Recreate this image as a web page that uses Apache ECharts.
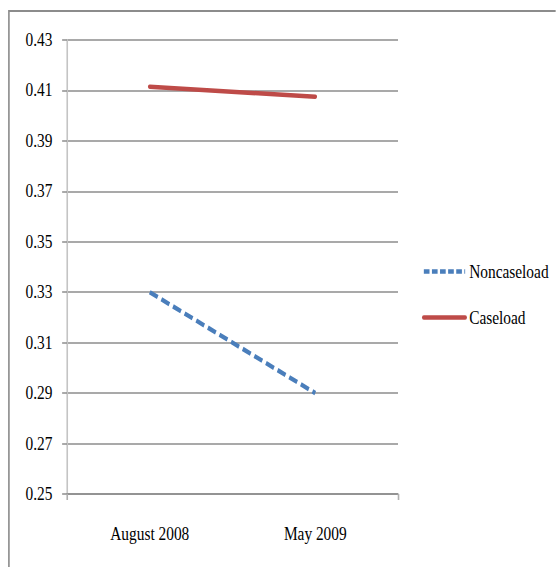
<!DOCTYPE html>
<html>
<head>
<meta charset="utf-8">
<script src="https://cdn.jsdelivr.net/npm/echarts@6/dist/echarts.min.js"></script>
<style>
  html, body { margin: 0; padding: 0; background: #ffffff; overflow: hidden; }
  #wrap { width: 556px; height: 567px; overflow: hidden; position: relative; }
  #chart { width: 686px; height: 567px; transform: scaleX(0.81); transform-origin: 0 0; }
</style>
</head>
<body>
<div id="wrap"><div id="chart"></div></div>
<script>
const categories = ['August 2008', 'May 2009'];
const noncaseload = [0.33, 0.29];
const caseload = [0.4115, 0.4075];
const yMin = 0.25, yMax = 0.43, yStep = 0.02;

const FONT = '"Liberation Serif", "Times New Roman", serif';
const chart = echarts.init(document.getElementById('chart'), null, { renderer: 'svg' });

chart.setOption({
  backgroundColor: '#ffffff',
  animation: false,
  graphic: [{
    type: 'rect',
    shape: { x: 11, y: 11, width: 1200, height: 1200 },
    style: { fill: 'none', stroke: '#8c8c8c', lineWidth: 2 },
    silent: true
  }],
  grid: { left: 82.7, right: 194.6, top: 40, bottom: 73, containLabel: false },
  legend: {
    orient: 'vertical',
    left: 521,
    top: 262,
    padding: 0,
    itemWidth: 51,
    itemHeight: 19,
    itemGap: 27,
    textStyle: { fontFamily: FONT, fontSize: 19, color: '#000', lineHeight: 19 },
    itemStyle: { opacity: 0 },
    data: [
      { name: 'Noncaseload', lineStyle: { width: 4.5, type: [7, 3] } },
      { name: 'Caseload', lineStyle: { width: 4.5 } }
    ]
  },
  xAxis: {
    type: 'category',
    data: categories,
    boundaryGap: true,
    axisLine: { lineStyle: { color: '#8c8c8c', width: 1.5 } },
    axisTick: { show: true, interval: 1, length: 6, lineStyle: { color: '#b0b0b0', width: 2 } },
    axisLabel: { fontFamily: FONT, fontSize: 19, color: '#000', margin: 30 },
    splitLine: { show: false }
  },
  yAxis: {
    type: 'value',
    min: yMin,
    max: yMax,
    interval: yStep,
    axisLine: { show: true, lineStyle: { color: '#c4c4c4', width: 2 } },
    axisTick: { show: true, length: 6, lineStyle: { color: '#8c8c8c', width: 1.5 } },
    axisLabel: {
      fontFamily: FONT, fontSize: 19, color: '#000', margin: 18,
      formatter: v => v.toFixed(2)
    },
    splitLine: { show: true, lineStyle: { color: '#8c8c8c', width: 1.5 } }
  },
  series: [
    {
      name: 'Noncaseload',
      type: 'line',
      data: noncaseload,
      showSymbol: false,
      symbol: 'none',
      color: '#4a7ebb',
      lineStyle: { color: '#4a7ebb', width: 4.5, type: [11, 5] }
    },
    {
      name: 'Caseload',
      type: 'line',
      data: caseload,
      showSymbol: false,
      symbol: 'none',
      color: '#be4b48',
      lineStyle: { color: '#be4b48', width: 4.5, cap: 'round' }
    }
  ]
});
</script>
</body>
</html>
